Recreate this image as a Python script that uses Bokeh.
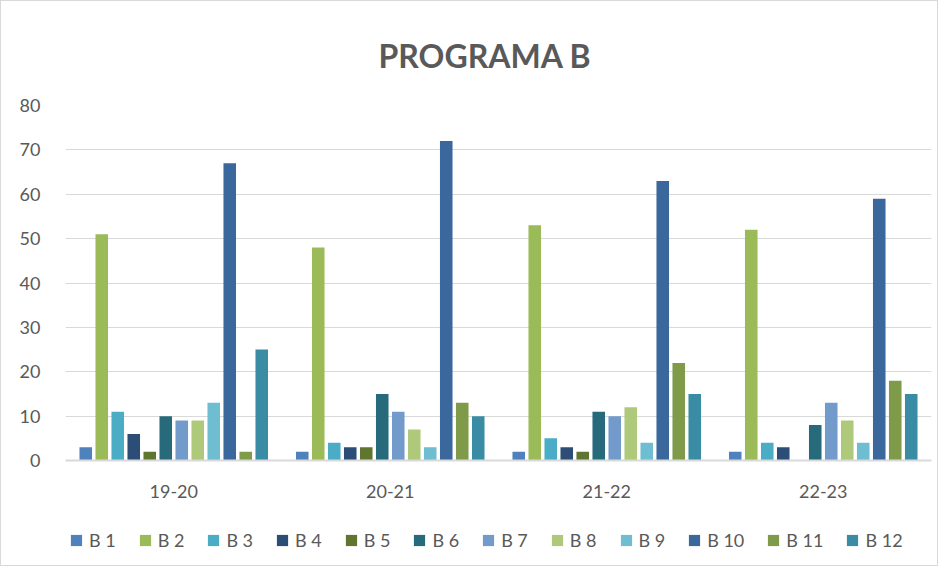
from bokeh.plotting import figure
from bokeh.models import ColumnDataSource, FactorRange, Legend, LegendItem, Range1d
from bokeh.layouts import column
from bokeh.transform import dodge
from bokeh.embed import file_html
from bokeh.resources import INLINE

years = ["19-20", "20-21", "21-22", "22-23"]
series = ["B 1", "B 2", "B 3", "B 4", "B 5", "B 6", "B 7", "B 8", "B 9", "B 10", "B 11", "B 12"]
b1 = [3, 2, 2, 2]
b2 = [51, 48, 53, 52]
b3 = [11, 4, 5, 4]
b4 = [6, 3, 3, 3]
b5 = [2, 3, 2, 0]
b6 = [10, 15, 11, 8]
b7 = [9, 11, 10, 13]
b8 = [9, 7, 12, 9]
b9 = [13, 3, 4, 4]
b10 = [67, 72, 63, 59]
b11 = [2, 13, 22, 18]
b12 = [25, 10, 15, 15]
values = [b1, b2, b3, b4, b5, b6, b7, b8, b9, b10, b11, b12]
colors = ["#4F81BD", "#9BBB59", "#4BACC6", "#2C4D75", "#5F7530", "#276A7C",
          "#729ACA", "#AFC97A", "#6FBDD1", "#3A679C", "#7F9A48", "#3A8CA4"]

data = {"year": years}
for i, v in enumerate(values):
    data["s%d" % i] = v
src = ColumnDataSource(data)

p = figure(x_range=FactorRange(*years), y_range=(0, 80), frame_width=866, frame_height=355,
           output_backend="svg", toolbar_location=None, title="PROGRAMA B",
           min_border_left=64, min_border_right=6, min_border_top=104, min_border_bottom=60)

step = 0.0739
for i in range(12):
    p.vbar(x=dodge("year", (i - 5.5) * step, range=p.x_range), top="s%d" % i,
           width=0.058, source=src, fill_color=colors[i], line_color=None)

p.title.align = "left"
p.title.offset = 313
p.title.text_font = "Lato"
p.title.text_font_size = "32px"
p.title.text_font_style = "bold"
p.title.text_color = "#595959"
p.title.standoff = 62

p.outline_line_color = None
p.xgrid.grid_line_color = None
p.ygrid.grid_line_color = "#D9D9D9"
p.ygrid.grid_line_width = 1
p.yaxis.ticker = [0, 10, 20, 30, 40, 50, 60, 70, 80]
p.yaxis.axis_line_color = None
p.yaxis.major_tick_line_color = None
p.yaxis.minor_tick_line_color = None
p.yaxis.major_label_standoff = 19
p.xaxis.axis_line_color = "#D9D9D9"
p.xaxis.axis_line_width = 2
p.xaxis.major_tick_line_color = None
p.xaxis.major_label_standoff = 18
for ax in (p.xaxis, p.yaxis):
    ax.major_label_text_font = "Lato"
    ax.major_label_text_font_size = "18px"
    ax.major_label_text_color = "#595959"

# legend strip (its bars lie outside its visible range; only the legend shows)
lg = figure(width=936, height=45, output_backend="svg", toolbar_location=None,
            x_range=FactorRange(*years), y_range=Range1d(200, 300),
            min_border=0, x_axis_type=None, y_axis_type=None)
lg.outline_line_color = None
lg.xgrid.grid_line_color = None
lg.ygrid.grid_line_color = None
items = []
for i in range(12):
    r = lg.vbar(x=dodge("year", (i - 5.5) * step, range=lg.x_range), top="s%d" % i,
                width=0.058, source=src, fill_color=colors[i], line_color=None)
    items.append(LegendItem(label=series[i], renderers=[r]))
legend = Legend(items=items, orientation="horizontal", location=(4, 14), border_line_color=None,
                background_fill_alpha=0,
                label_text_font="Lato", label_text_font_size="18px", label_text_color="#595959",
                glyph_width=14, glyph_height=14, label_standoff=6, spacing=22,
                margin=0, padding=0)
lg.add_layout(legend)

layout = column(p, lg, spacing=0)
layout.styles = {"border": "1px solid #D9D9D9"}

open("out.html", "w").write(file_html(layout, INLINE))
